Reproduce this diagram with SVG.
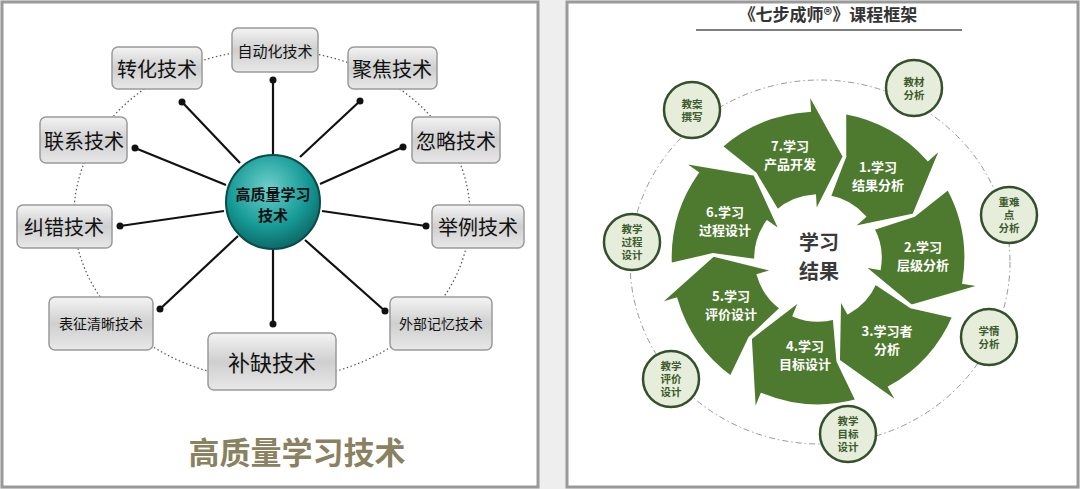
<svg xmlns="http://www.w3.org/2000/svg" width="1080" height="489" viewBox="0 0 1080 489">
<defs>
<linearGradient id="silver" x1="0" y1="0" x2="0" y2="1"><stop offset="0" stop-color="#f4f4f4"/><stop offset="0.5" stop-color="#cfcfcf"/><stop offset="1" stop-color="#e8e8e8"/></linearGradient>
<radialGradient id="teal" cx="0.45" cy="0.35" r="0.7"><stop offset="0" stop-color="#6fd0cc"/><stop offset="0.6" stop-color="#169a96"/><stop offset="1" stop-color="#0b5f5c"/></radialGradient>
<path id="seg" d="M133.4,-64.2 A148,148 0 0 1 144.8,30.8 L164.3,34.9 L90.9,52.5 L43,9.1 L60.6,12.9 A62,62 0 0 0 55.9,-26.9 L97.8,-38.3 Z"/>
</defs>
<style>
.box{fill:url(#silver);stroke:#9a9a9a;stroke-width:1.5}
.bt{font-family:"Noto Sans CJK SC",sans-serif;fill:#111;text-anchor:middle;dominant-baseline:central}
.ln{stroke:#111;stroke-width:2.2}
.dot{fill:#111}
.seg{fill:#4e7a2f;stroke:#fff;stroke-width:3.5;stroke-linejoin:miter}
.st{font-family:"Noto Sans CJK SC",sans-serif;font-weight:bold;font-size:13px;fill:#fff;text-anchor:middle}
.oc{fill:#e6eedb;stroke:#34502a;stroke-width:2.5}
.ot{font-family:"Noto Sans CJK SC",sans-serif;font-weight:bold;font-size:10.5px;fill:#3c5a2c;text-anchor:middle}
</style>
<rect width="1080" height="489" fill="#eeeeee"/>
<rect x="2" y="2" width="536" height="485" fill="#fff" stroke="#9a9a9a" stroke-width="3"/>
<rect x="567" y="2" width="511" height="485" fill="#fff" stroke="#9a9a9a" stroke-width="3"/>
<ellipse cx="272" cy="215" rx="198" ry="165" fill="none" stroke="#555" stroke-width="1.2" stroke-dasharray="1.5 2.5"/>
<g id="connectors">
<line class="ln" x1="273" y1="80" x2="273" y2="167"/><circle class="dot" cx="273" cy="80" r="3.5"/>
<line class="ln" x1="182" y1="102" x2="240" y2="163"/><circle class="dot" cx="182" cy="102" r="3.5"/>
<line class="ln" x1="360" y1="101" x2="300" y2="157"/><circle class="dot" cx="360" cy="101" r="3.5"/>
<line class="ln" x1="135" y1="148" x2="226" y2="185"/><circle class="dot" cx="135" cy="148" r="3.5"/>
<line class="ln" x1="403" y1="147" x2="320" y2="184"/><circle class="dot" cx="403" cy="147" r="3.5"/>
<line class="ln" x1="120" y1="226" x2="224" y2="211"/><circle class="dot" cx="120" cy="226" r="3.5"/>
<line class="ln" x1="426" y1="226" x2="322" y2="211"/><circle class="dot" cx="426" cy="226" r="3.5"/>
<line class="ln" x1="160" y1="309" x2="238" y2="236"/><circle class="dot" cx="160" cy="309" r="3.5"/>
<line class="ln" x1="385" y1="311" x2="305" y2="240"/><circle class="dot" cx="385" cy="311" r="3.5"/>
<line class="ln" x1="273" y1="324" x2="273" y2="246"/><circle class="dot" cx="273" cy="324" r="3.5"/>
</g>
<g id="center"><circle cx="273" cy="202" r="47" fill="url(#teal)" stroke="#0a4a48" stroke-width="2"/>
<text class="bt" x="273" y="193" font-size="15" font-weight="bold">高质量学习</text><text class="bt" x="273" y="214" font-size="15" font-weight="bold">技术</text></g>
<g id="n1"><rect class="box" x="232" y="28" width="86" height="44" rx="6"/><text class="bt" x="275" y="50" font-size="15">自动化技术</text></g>
<g id="n2"><rect class="box" x="112" y="47" width="90" height="42" rx="6"/><text class="bt" x="157" y="68" font-size="20">转化技术</text></g>
<g id="n3"><rect class="box" x="348" y="47" width="89" height="42" rx="6"/><text class="bt" x="392" y="68" font-size="20">聚焦技术</text></g>
<g id="n4"><rect class="box" x="40" y="117" width="87" height="46" rx="6"/><text class="bt" x="84" y="140" font-size="20">联系技术</text></g>
<g id="n5"><rect class="box" x="412" y="117" width="88" height="46" rx="6"/><text class="bt" x="456" y="140" font-size="20">忽略技术</text></g>
<g id="n6"><rect class="box" x="17" y="205" width="95" height="43" rx="6"/><text class="bt" x="64" y="226" font-size="20">纠错技术</text></g>
<g id="n7"><rect class="box" x="432" y="205" width="92" height="43" rx="6"/><text class="bt" x="478" y="226" font-size="20">举例技术</text></g>
<g id="n8"><rect class="box" x="49" y="297" width="104" height="53" rx="6"/><text class="bt" x="101" y="323" font-size="14">表征清晰技术</text></g>
<g id="n9"><rect class="box" x="390" y="297" width="102" height="53" rx="6"/><text class="bt" x="441" y="323" font-size="14">外部记忆技术</text></g>
<g id="n10"><rect class="box" x="208" y="333" width="128" height="57" rx="6"/><text class="bt" x="272" y="361" font-size="22">补缺技术</text></g>
<text x="297" y="450" font-family="Noto Sans CJK SC,sans-serif" font-weight="bold" font-size="31" fill="#8a8160" text-anchor="middle" dominant-baseline="central">高质量学习技术</text>
<text x="828" y="21" font-family="Noto Sans CJK SC,sans-serif" font-weight="bold" font-size="17" fill="#333" text-anchor="middle">《七步成师®》课程框架</text>
<line x1="696" y1="30" x2="962" y2="30" stroke="#555" stroke-width="1.5"/>
<ellipse cx="820" cy="262" rx="190" ry="182" fill="none" stroke="#999" stroke-width="1" stroke-dasharray="6 3 1.5 3"/>
<g id="ring">
<use href="#seg" class="seg" transform="translate(818,258) rotate(-54)"/>
<use href="#seg" class="seg" transform="translate(818,258) rotate(-2.6)"/>
<use href="#seg" class="seg" transform="translate(818,258) rotate(48.9)"/>
<use href="#seg" class="seg" transform="translate(818,258) rotate(100.3)"/>
<use href="#seg" class="seg" transform="translate(818,258) rotate(151.7)"/>
<use href="#seg" class="seg" transform="translate(818,258) rotate(203.1)"/>
<use href="#seg" class="seg" transform="translate(818,258) rotate(254.6)"/>
</g>
<text class="st" x="878" y="172">1.学习</text><text class="st" x="878" y="190">结果分析</text>
<text class="st" x="923" y="252">2.学习</text><text class="st" x="923" y="270">层级分析</text>
<text class="st" x="887" y="336">3.学习者</text><text class="st" x="887" y="354">分析</text>
<text class="st" x="805" y="351">4.学习</text><text class="st" x="805" y="369">目标设计</text>
<text class="st" x="731" y="301">5.学习</text><text class="st" x="731" y="319">评价设计</text>
<text class="st" x="725" y="217">6.学习</text><text class="st" x="725" y="235">过程设计</text>
<text class="st" x="790" y="151">7.学习</text><text class="st" x="790" y="169">产品开发</text>
<text x="819" y="250" font-family="Noto Sans CJK SC,sans-serif" font-weight="bold" font-size="20" fill="#3a3a3a" text-anchor="middle">学习</text>
<text x="819" y="279" font-family="Noto Sans CJK SC,sans-serif" font-weight="bold" font-size="20" fill="#3a3a3a" text-anchor="middle">结果</text>
<g id="o1"><circle class="oc" cx="914" cy="88" r="28"/><text class="ot" x="914" y="86">教材</text><text class="ot" x="914" y="99">分析</text></g>
<g id="o2"><circle class="oc" cx="1009" cy="215" r="28"/><text class="ot" x="1009" y="206">重难</text><text class="ot" x="1009" y="219">点</text><text class="ot" x="1009" y="232">分析</text></g>
<g id="o3"><circle class="oc" cx="989" cy="337" r="28"/><text class="ot" x="989" y="335">学情</text><text class="ot" x="989" y="348">分析</text></g>
<g id="o4"><circle class="oc" cx="848" cy="434" r="28"/><text class="ot" x="848" y="425">教学</text><text class="ot" x="848" y="438">目标</text><text class="ot" x="848" y="451">设计</text></g>
<g id="o5"><circle class="oc" cx="671" cy="379" r="28"/><text class="ot" x="671" y="370">教学</text><text class="ot" x="671" y="383">评价</text><text class="ot" x="671" y="396">设计</text></g>
<g id="o6"><circle class="oc" cx="632" cy="242" r="28"/><text class="ot" x="632" y="233">教学</text><text class="ot" x="632" y="246">过程</text><text class="ot" x="632" y="259">设计</text></g>
<g id="o7"><circle class="oc" cx="692" cy="110" r="28"/><text class="ot" x="692" y="108">教案</text><text class="ot" x="692" y="121">撰写</text></g>
</svg>
